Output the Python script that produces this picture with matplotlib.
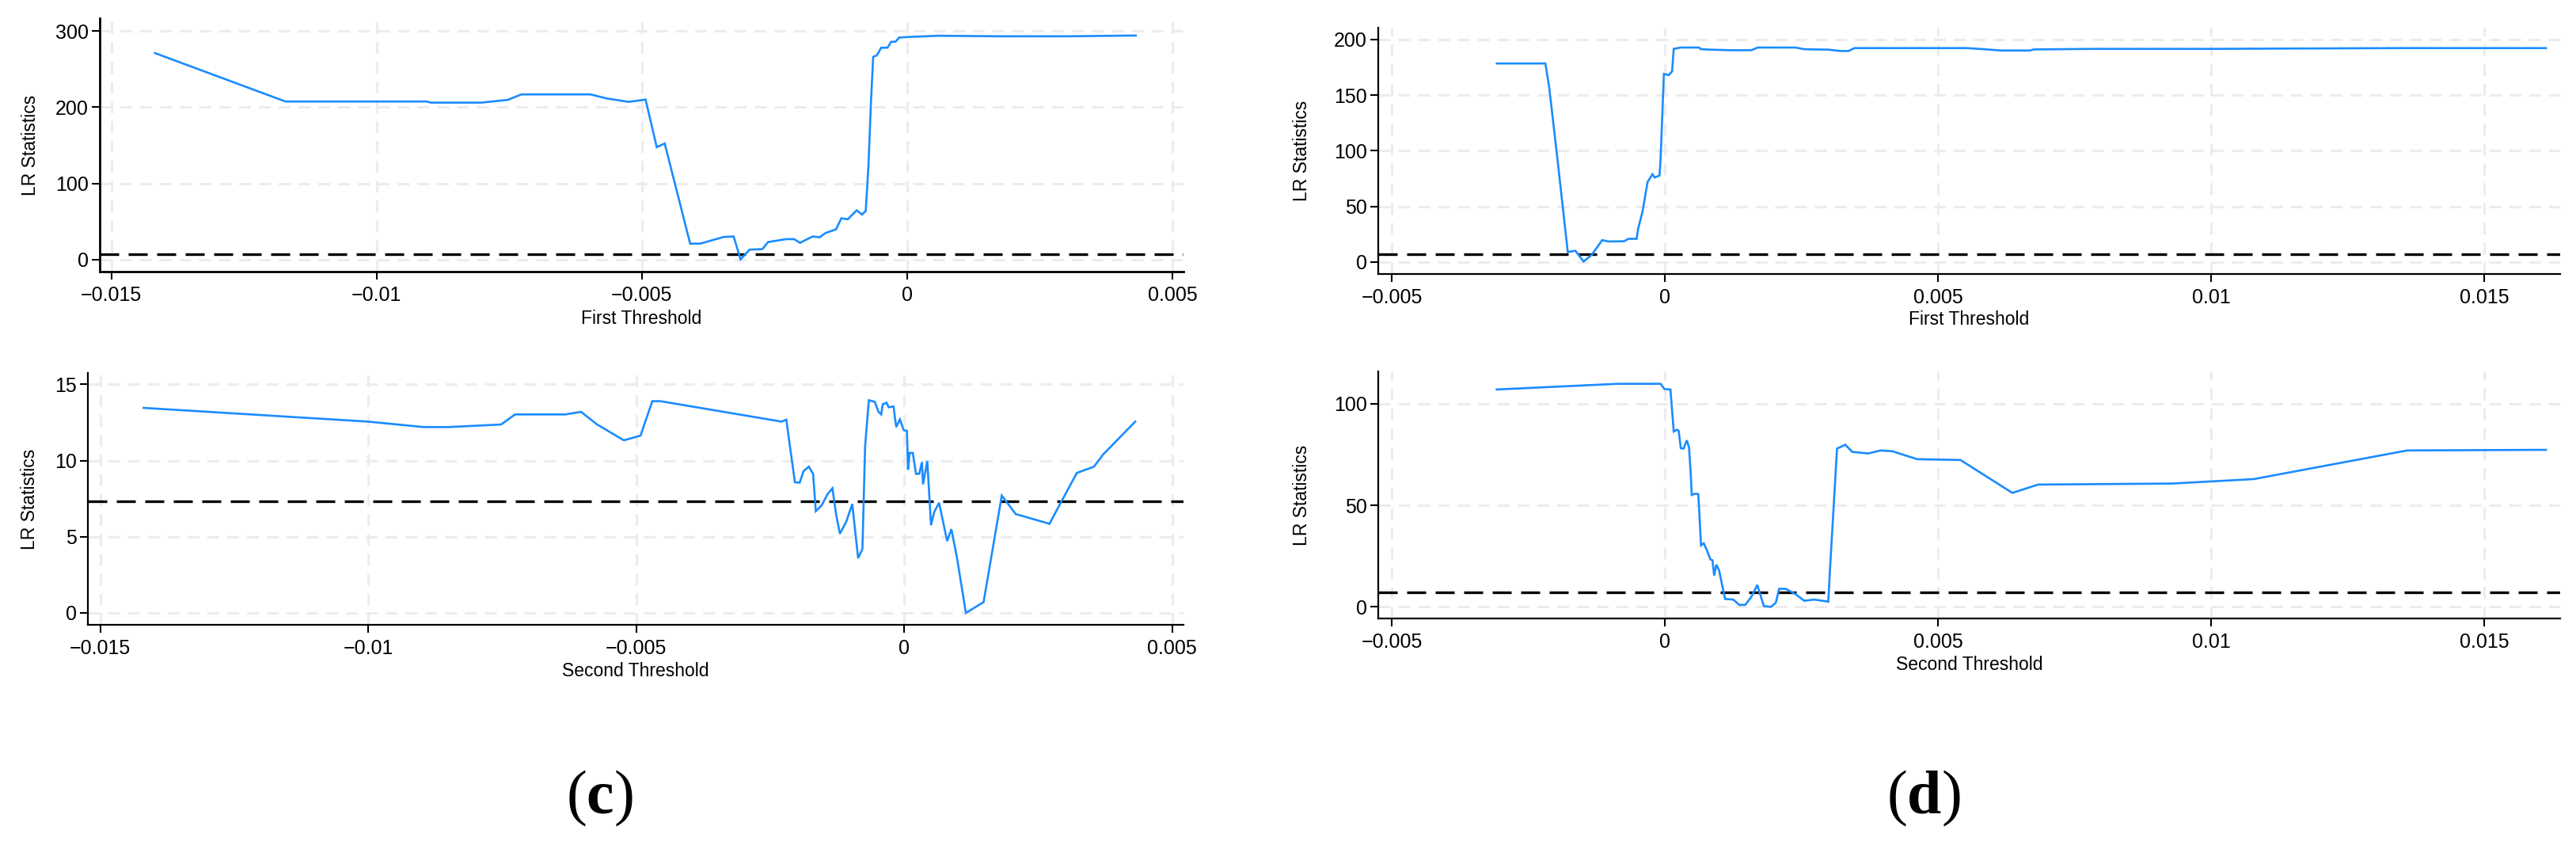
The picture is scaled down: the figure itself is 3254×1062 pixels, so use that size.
import matplotlib
matplotlib.use("Agg")
import matplotlib.pyplot as plt
from matplotlib.ticker import FixedLocator, FixedFormatter

# ---------------- data ----------------
crit_value = 7.35

# panel (c): first threshold
c1_x = [-0.01418, -0.01172, -0.00906, -0.00898, -0.00803, -0.00753, -0.00727, -0.00597,
        -0.00567, -0.00525, -0.00493, -0.00472, -0.00457, -0.00409, -0.00390, -0.00346,
        -0.00327, -0.00314, -0.00297, -0.00273, -0.00262, -0.00228, -0.00213, -0.00202,
        -0.00178, -0.00165, -0.00154, -0.00134, -0.00124, -0.00112, -0.00095, -0.00085,
        -0.00078, -0.00073, -0.00068, -0.00064, -0.00057, -0.00049, -0.00037, -0.00030,
        -0.00022, -0.00015, 0.00000, 0.00058, 0.00172, 0.00301, 0.00431]
c1_y = [271.0, 207.5, 207.5, 206.0, 206.0, 209.6, 216.8, 216.8,
        211.6, 207.0, 210.0, 147.6, 152.4, 21.1, 21.1, 29.8,
        30.5, 0.5, 13.2, 13.9, 23.2, 27.0, 27.0, 22.2,
        30.5, 29.4, 35.0, 39.8, 54.4, 53.0, 64.8, 59.2,
        64.0, 122.0, 209.0, 266.0, 268.0, 278.0, 278.0, 285.8,
        285.8, 291.3, 292.0, 293.7, 293.0, 293.0, 294.0]

# panel (c): second threshold
c2_x = [-0.01419, -0.01001, -0.00896, -0.00850, -0.00752, -0.00726, -0.00632, -0.00603,
        -0.00573, -0.00523, -0.00492, -0.00470, -0.00455, -0.00229, -0.00220, -0.00204,
        -0.00195, -0.00188, -0.00178, -0.00170, -0.00165, -0.00154, -0.00143, -0.00134,
        -0.00127, -0.00120, -0.00108, -0.00097, -0.00086, -0.00078, -0.00073, -0.00066,
        -0.00055, -0.00048, -0.00043, -0.00040, -0.00033, -0.00029, -0.00020, -0.00015,
        -0.00008, -0.00001, 0.00005, 0.00007, 0.00010, 0.00016, 0.00022, 0.00028,
        0.00033, 0.00035, 0.00043, 0.00050, 0.00056, 0.00065, 0.00080, 0.00088,
        0.00099, 0.00115, 0.00148, 0.00182, 0.00208, 0.00271, 0.00284, 0.00322,
        0.00354, 0.00371, 0.00431]
c2_y = [13.46, 12.56, 12.2, 12.2, 12.37, 13.03, 13.03, 13.2,
        12.37, 11.33, 11.64, 13.9, 13.9, 12.56, 12.68, 8.58,
        8.55, 9.3, 9.6, 9.13, 6.68, 7.06, 7.8, 8.18,
        6.45, 5.2, 6.0, 7.15, 3.6, 4.2, 10.95, 13.96,
        13.86, 13.2, 13.03, 13.7, 13.8, 13.5, 13.55, 12.2,
        12.7, 12.0, 11.95, 9.4, 10.5, 10.5, 9.13, 9.13,
        9.9, 8.44, 9.97, 5.76, 6.63, 7.23, 4.72, 5.5,
        3.5, 0.0, 0.71, 7.7, 6.49, 5.85, 6.71, 9.19,
        9.6, 10.4, 12.56]

# panel (d): first threshold
d1_x = [-0.00308, -0.00219, -0.00212, -0.00197, -0.00178, -0.00164, -0.00149, -0.00134,
        -0.00115, -0.00104, -0.00075, -0.00067, -0.00052, -0.00049, -0.00041, -0.00032,
        -0.00023, -0.00019, -0.00010, -0.00008, -0.00002, 0.00007, 0.00013, 0.00016,
        0.00029, 0.00062, 0.00066, 0.00084, 0.00121, 0.00158, 0.00170, 0.00239,
        0.00255, 0.00299, 0.00321, 0.00336, 0.00347, 0.00553, 0.00584, 0.00616,
        0.00668, 0.00675, 0.00786, 0.00999, 0.01339, 0.01613]
d1_y = [178.4, 178.4, 157.0, 93.0, 9.0, 10.2, 0.5, 6.6,
        19.7, 18.5, 18.7, 20.9, 20.9, 30.3, 45.7, 71.8,
        78.9, 76.0, 77.7, 93.0, 169.0, 168.0, 171.3, 191.5,
        192.7, 192.7, 191.2, 190.8, 190.3, 190.3, 192.7, 192.7,
        191.2, 190.8, 189.6, 189.6, 192.2, 192.2, 191.2, 190.0,
        190.0, 191.0, 191.5, 191.5, 192.2, 192.2]

# panel (d): second threshold
d2_x = [-0.00308, -0.00086, -0.00008, -0.00001, 0.00010, 0.00016, 0.00022, 0.00025,
        0.00029, 0.00034, 0.00040, 0.00044, 0.00047, 0.00049, 0.00055, 0.00061,
        0.00066, 0.00071, 0.00077, 0.00083, 0.00087, 0.00090, 0.00094, 0.00099,
        0.00110, 0.00125, 0.00136, 0.00147, 0.00158, 0.00169, 0.00181, 0.00194,
        0.00203, 0.00209, 0.00221, 0.00239, 0.00255, 0.00273, 0.00299, 0.00302,
        0.00315, 0.00330, 0.00343, 0.00372, 0.00395, 0.00417, 0.00430, 0.00462,
        0.00541, 0.00636, 0.00683, 0.00928, 0.01078, 0.01359, 0.01613]
d2_y = [107.0, 109.8, 109.8, 107.2, 107.0, 86.3, 87.2, 86.7,
        78.1, 77.9, 82.0, 78.5, 66.1, 55.1, 55.7, 55.5,
        30.3, 31.3, 27.7, 23.4, 22.9, 15.4, 20.8, 18.0,
        3.9, 3.6, 1.0, 1.0, 4.9, 10.8, 0.4, 0.0,
        2.1, 8.9, 8.9, 6.3, 3.0, 3.6, 2.6, 18.0,
        77.9, 79.8, 76.3, 75.5, 77.0, 76.6, 75.4, 72.7,
        72.3, 56.1, 60.2, 60.7, 62.9, 77.0, 77.3]

c_xticks = [-0.015, -0.01, -0.005, 0, 0.005]
c_xticklabels = ["\u22120.015", "\u22120.01", "\u22120.005", "0", "0.005"]
d_xticks = [-0.005, 0, 0.005, 0.01, 0.015]
d_xticklabels = ["\u22120.005", "0", "0.005", "0.01", "0.015"]
c1_yticks = [0, 100, 200, 300]
c2_yticks = [0, 5, 10, 15]
d1_yticks = [0, 50, 100, 150, 200]
d2_yticks = [0, 50, 100]

first_label = "First Threshold"
second_label = "Second Threshold"
y_title = "LR Statistics"
panel_labels = ["c", "d"]

# ---------------- styling ----------------
plt.rcParams['font.family'] = ['Liberation Sans', 'DejaVu Sans']
plt.rcParams['mathtext.fontset'] = 'custom'
plt.rcParams['mathtext.rm'] = 'Liberation Serif'
plt.rcParams['mathtext.bf'] = 'Liberation Serif:bold'

W, H = 3255, 1062
fig = plt.figure(figsize=(W / 100, H / 100), dpi=100)

BLUE = '#1a8cff'
GRID = '#ececec'


def make_axes(l, r, t, b):
    return fig.add_axes([l / W, 1 - b / H, (r - l) / W, (b - t) / H])


def style(ax, x, y, xlim, ylim, xticks, xlabels, yticks, xlabel,
          ylab_px, xlab_px, spine_w=1.6):
    ax.plot(x, y, color=BLUE, lw=1.9, solid_joinstyle='miter', zorder=3)
    ax.axhline(crit_value, color='black', lw=2.4, ls=(0, (7.2, 3.6)), zorder=2)
    ax.set_xlim(*xlim)
    ax.set_ylim(*ylim)
    ax.xaxis.set_major_locator(FixedLocator(xticks))
    ax.xaxis.set_major_formatter(FixedFormatter(xlabels))
    ax.yaxis.set_major_locator(FixedLocator(yticks))
    ax.yaxis.set_major_formatter(FixedFormatter([str(v) for v in yticks]))
    ax.grid(True, color=GRID, lw=2.2, ls=(0, (4.9, 3.3)), zorder=0)
    ax.set_axisbelow(True)
    for s in ['top', 'right']:
        ax.spines[s].set_visible(False)
    for s in ['left', 'bottom']:
        ax.spines[s].set_linewidth(spine_w)
    ax.tick_params(axis='both', length=7.2, width=1.5, labelsize=18, direction='out')
    ax.tick_params(axis='x', pad=6)
    ax.tick_params(axis='y', pad=3)
    bbox = ax.get_position()
    wpx = bbox.width * W
    hpx = bbox.height * H
    ax.set_ylabel(y_title, fontsize=16.5)
    ax.yaxis.set_label_coords(-ylab_px / wpx, 0.5)
    ax.yaxis.label.set_va('center')
    ax.set_xlabel(xlabel, fontsize=16.5)
    ax.xaxis.set_label_coords(0.5, -xlab_px / hpx)
    ax.xaxis.label.set_va('center')


ax1 = make_axes(126, 1495, 23, 343)
style(ax1, c1_x, c1_y, (-0.01522, 0.00521), (-15.6, 316.7), c_xticks, c_xticklabels,
      c1_yticks, first_label, 88, 60, spine_w=2.0)

ax2 = make_axes(111, 1495, 471, 789)
style(ax2, c2_x, c2_y, (-0.01523, 0.00521), (-0.78, 15.75), c_xticks, c_xticklabels,
      c2_yticks, second_label, 73, 59)

ax3 = make_axes(1741, 3234, 35, 346)
style(ax3, d1_x, d1_y, (-0.00525, 0.01639), (-10.7, 210.5), d_xticks, d_xticklabels,
      d1_yticks, first_label, 96, 57)

ax4 = make_axes(1741, 3234, 469, 781)
style(ax4, d2_x, d2_y, (-0.00525, 0.01639), (-5.7, 115.9), d_xticks, d_xticklabels,
      d2_yticks, second_label, 96, 58)

fig.text(757 / W, 1 - 1008 / H, r'$(\mathbf{%s})$' % panel_labels[0], ha='center', va='center',
         fontsize=56)
fig.text(2430 / W, 1 - 1008 / H, r'$(\mathbf{%s})$' % panel_labels[1], ha='center', va='center',
         fontsize=56)

fig.savefig('out.png', dpi=100, facecolor='white')
